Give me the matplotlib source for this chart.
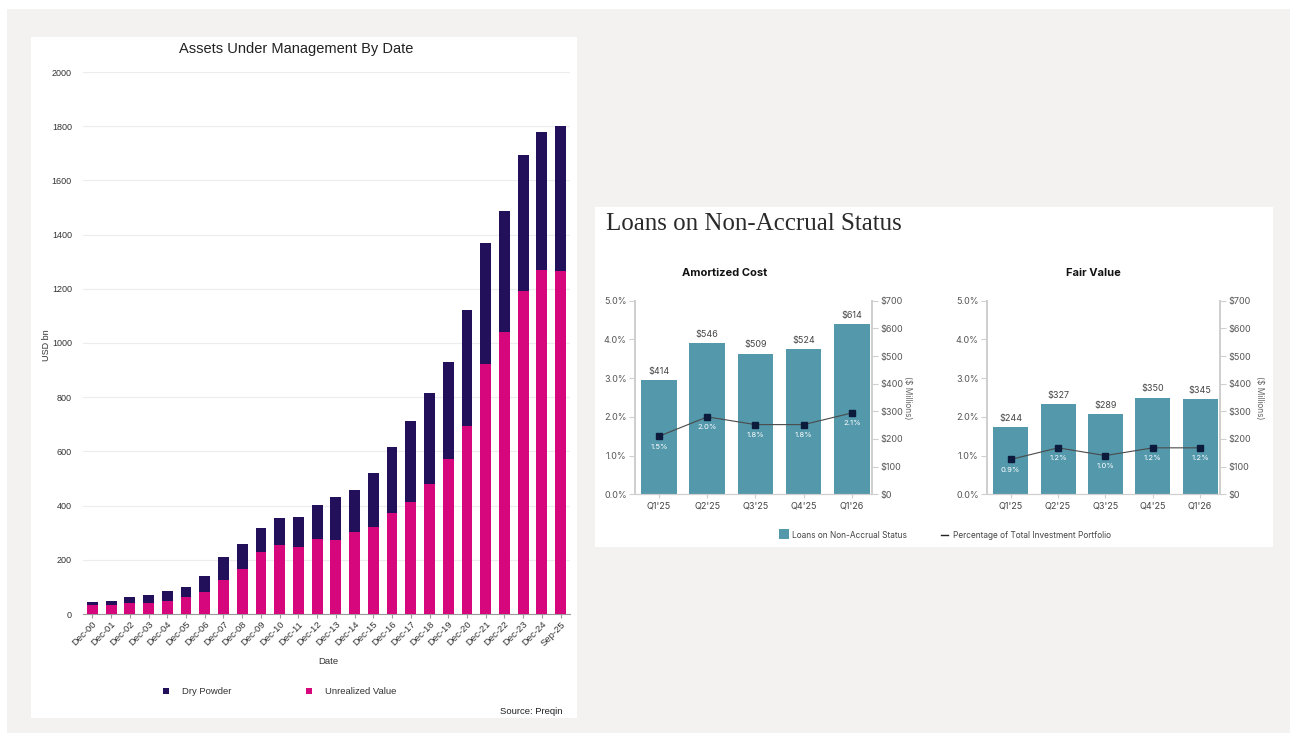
import matplotlib.pyplot as plt
from matplotlib.patches import Rectangle
from matplotlib.lines import Line2D
import numpy as np

W, H = 1293, 736

# left chart data (USD bn)
dates = ["Dec-00", "Dec-01", "Dec-02", "Dec-03", "Dec-04", "Dec-05", "Dec-06",
         "Dec-07", "Dec-08", "Dec-09", "Dec-10", "Dec-11", "Dec-12", "Dec-13",
         "Dec-14", "Dec-15", "Dec-16", "Dec-17", "Dec-18", "Dec-19", "Dec-20",
         "Dec-21", "Dec-22", "Dec-23", "Dec-24", "Sep-25"]
unrealized = [33, 34, 39, 42, 49, 62, 81, 125, 166, 228, 256, 248, 276, 273,
              301, 320, 371, 412, 480, 571, 695, 924, 1041, 1193, 1269, 1264]
dry_powder = [10, 14, 23, 27, 35, 39, 58, 87, 91, 89, 98, 109, 125, 159,
              155, 202, 246, 301, 334, 359, 428, 446, 447, 499, 509, 537]

# right chart data
quarters = ["Q1'25", "Q2'25", "Q3'25", "Q4'25", "Q1'26"]
amortized_cost = [414, 546, 509, 524, 614]
amortized_pct = [1.5, 2.0, 1.8, 1.8, 2.1]
fair_value = [244, 327, 289, 350, 345]
fair_pct = [0.9, 1.2, 1.0, 1.2, 1.2]

NAVY = "#22105a"
PINK = "#d6077c"
TEAL = "#5398ab"
MARK = "#0c1a3c"


def box(x0, y0, x1, y1):
    return [x0 / W, 1 - y1 / H, (x1 - x0) / W, (y1 - y0) / H]


def fx(x):
    return x / W


def fy(y):
    return 1 - y / H


fig = plt.figure(figsize=(W / 100, H / 100), dpi=100, facecolor="white")
fig.patches.append(Rectangle((fx(7), fy(733)), fx(1290) - fx(7), fy(9) - fy(733),
                             transform=fig.transFigure, facecolor="#f3f2f0",
                             edgecolor="none", zorder=-10))
fig.patches.append(Rectangle((fx(31), fy(718)), fx(577) - fx(31), fy(37) - fy(718),
                             transform=fig.transFigure, facecolor="white",
                             edgecolor="none", zorder=-9))
fig.patches.append(Rectangle((fx(595), fy(547)), fx(1273) - fx(595), fy(207) - fy(547),
                             transform=fig.transFigure, facecolor="white",
                             edgecolor="none", zorder=-9))

# ---- left: stacked bars
sans = "Liberation Sans"
ax = fig.add_axes(box(83, 72, 570, 614))
ax.patch.set_alpha(0)
x = np.arange(len(dates))
ax.bar(x, unrealized, width=0.58, color=PINK, zorder=3)
ax.bar(x, dry_powder, bottom=unrealized, width=0.58, color=NAVY, zorder=3)
ax.set_xlim(-0.5, len(dates) - 0.5)
ax.set_ylim(0, 2000)
ax.set_yticks(np.arange(0, 2001, 200))
ax.grid(axis="y", color="#ececec", lw=0.8, zorder=0)
for s in ["top", "left", "right"]:
    ax.spines[s].set_visible(False)
ax.spines["bottom"].set_color("#9a9a9a")
ax.tick_params(axis="y", length=0, pad=8, labelsize=6.5, labelcolor="#333333")
ax.tick_params(axis="x", length=3, color="#9a9a9a", pad=1, labelsize=6.8,
               labelcolor="#333333")
ax.set_xticks(x)
ax.set_xticklabels(dates, rotation=45, ha="right", rotation_mode="anchor")
for lab in ax.get_xticklabels() + ax.get_yticklabels():
    lab.set_family(sans)

fig.text(fx(296), fy(49), "Assets Under Management By Date", ha="center", va="center",
         fontsize=10.5, family=sans, color="#222222")
fig.text(fx(46), fy(345), "USD bn", rotation=90, ha="center", va="center",
         fontsize=6.5, family=sans, color="#333333")
fig.text(fx(328), fy(661), "Date", ha="center", va="center", fontsize=6.8,
         family=sans, color="#333333")
for cx, col, label in [(166, NAVY, "Dry Powder"), (309, PINK, "Unrealized Value")]:
    fig.patches.append(Rectangle((fx(cx - 3), fy(694)), fx(6), 6 / H,
                                 transform=fig.transFigure, facecolor=col))
    fig.text(fx(cx + 16), fy(691), label, ha="left", va="center", fontsize=6.8,
             family=sans, color="#333333")
fig.text(fx(563), fy(712), "Source: Preqin", ha="right", va="center", fontsize=6.8,
         family=sans, color="#222222")

# ---- right: loans on non-accrual status
rs = "Inter"


def loans_panel(rect, values, pct, title, title_x, millions_x):
    axp = fig.add_axes(rect)
    axd = axp.twinx()
    xs = np.arange(len(quarters))
    axd.bar(xs, values, width=0.74, color=TEAL, zorder=2)
    for xi, v in zip(xs, values):
        axd.annotate(f"\\${v}", (xi, v), xytext=(0, 3), textcoords="offset points",
                     ha="center", va="bottom", fontsize=6.5, color="#444444",
                     family=rs)
    axd.set_ylim(0, 700)
    axd.set_yticks(np.arange(0, 701, 100))
    axd.set_yticklabels([f"\\${v}" for v in range(0, 701, 100)])
    axp.set_zorder(axd.get_zorder() + 1)
    axp.patch.set_visible(False)
    axp.plot(xs, pct, color="#4a4a4a", lw=0.8, marker="s", ms=4.5,
             mfc=MARK, mec=MARK)
    for xi, p in zip(xs, pct):
        axp.annotate(f"{p:.1f}%", (xi, p), xytext=(0, -7.5), textcoords="offset points",
                     ha="center", va="center", fontsize=5.5, color="white", family=rs)
    axp.set_ylim(0, 5)
    axp.set_yticks(np.arange(0, 5.1, 1))
    axp.set_yticklabels([f"{v:.1f}%" for v in range(0, 6)])
    axp.set_xlim(-0.5, 4.42)
    axp.set_xticks(xs)
    axp.set_xticklabels(quarters)
    for a in (axp, axd):
        a.spines["top"].set_visible(False)
        for s in ["left", "right", "bottom"]:
            a.spines[s].set_color("#cfcfcf")
        a.spines["left"].set_linewidth(1.4)
        a.spines["right"].set_linewidth(1.4)
        a.tick_params(axis="y", length=4, color="#cfcfcf", labelsize=6.5,
                      labelcolor="#555555", pad=2)
        a.tick_params(axis="x", length=3, color="#cfcfcf", labelsize=6.5,
                      labelcolor="#444444", pad=2)
        for lab in a.get_xticklabels() + a.get_yticklabels():
            lab.set_family(rs)
    fig.text(fx(title_x), fy(273), title, ha="center", va="center", fontsize=8,
             weight="bold", family=rs, color="#111111")
    fig.text(fx(millions_x), fy(398), "(\\$ Millions)", rotation=-90, ha="center",
             va="center", fontsize=6, family=rs, color="#666666")


loans_panel(box(635, 300.7, 872, 494.3), amortized_cost, amortized_pct,
            "Amortized Cost", 725, 908)
loans_panel(box(987, 300.7, 1220, 494.3), fair_value, fair_pct,
            "Fair Value", 1093, 1259)

fig.text(fx(606), fy(224), "Loans on Non-Accrual Status", ha="left", va="center",
         fontsize=18, family="Liberation Serif", color="#2a2a2a")
fig.patches.append(Rectangle((fx(779), fy(539)), fx(10), 10 / H,
                             transform=fig.transFigure, facecolor=TEAL))
fig.text(fx(792), fy(535), "Loans on Non-Accrual Status", ha="left", va="center",
         fontsize=6, family=rs, color="#444444")
fig.lines.append(Line2D([fx(941), fx(948)], [fy(535), fy(535)],
                        transform=fig.transFigure, color="#222222", lw=1))
fig.text(fx(953), fy(535), "Percentage of Total Investment Portfolio", ha="left",
         va="center", fontsize=6, family=rs, color="#444444")

fig.savefig("out.png", dpi=100, facecolor=fig.get_facecolor())
